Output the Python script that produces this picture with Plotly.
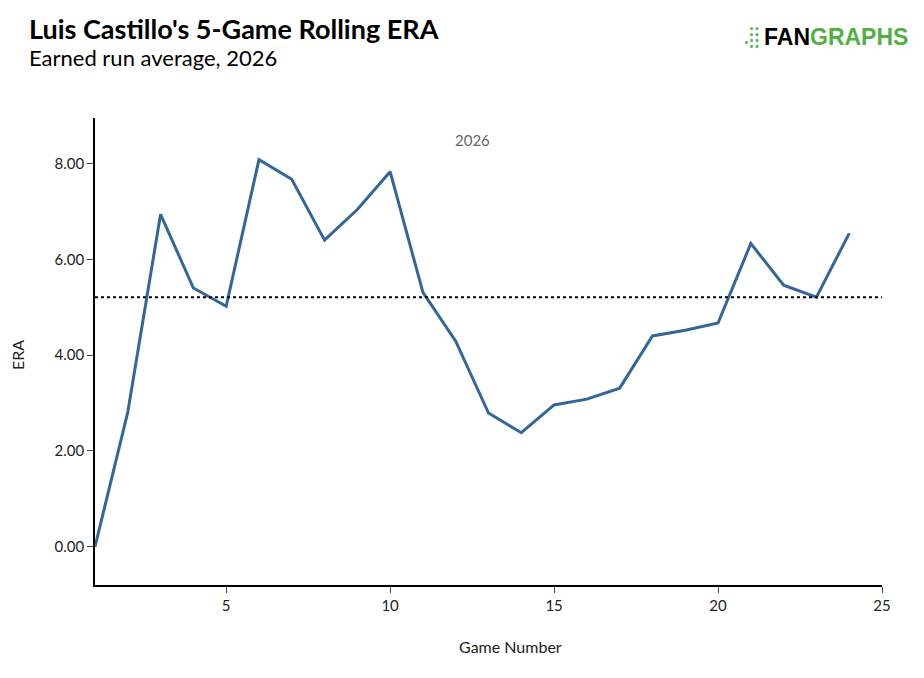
import plotly.graph_objects as go

games = list(range(1, 25))
era = [0.00, 2.81, 6.94, 5.40, 5.02, 8.08, 7.67, 6.40, 7.04, 7.83, 5.31, 4.29,
       2.79, 2.38, 2.96, 3.08, 3.31, 4.40, 4.52, 4.67, 6.33, 5.46, 5.21, 6.54]
avg_era = 5.21

H, W = 678, 924
L, R, T, B = 87, 50, 110, 101
fig = go.Figure()
fig.add_trace(go.Scatter(x=games, y=era, mode="lines",
                         line=dict(color="#336699", width=3), hoverinfo="x+y"))
fig.add_hline(y=avg_era, line=dict(color="black", width=2, dash="dot"))

fig.update_layout(
    width=W, height=H, showlegend=False,
    paper_bgcolor="white", plot_bgcolor="white",
    margin=dict(l=L, r=R, t=T, b=B, autoexpand=False),
    font=dict(family="Lato, sans-serif", size=15, color="#222"),
    xaxis=dict(range=[1, 25], tickvals=[5, 10, 15, 20, 25], showgrid=False, zeroline=False,
               showline=True, linecolor="black", linewidth=1.5, ticks="outside", ticklen=6,
               automargin=False),
    yaxis=dict(range=[-0.8, 8.95], tickvals=[0, 2, 4, 6, 8], tickformat=".2f",
               showgrid=False, zeroline=False, showline=True, linecolor="black", linewidth=1.5,
               ticks="outside", ticklen=6, automargin=False),
)
pw, ph = W - L - R, H - T - B
def px(x): return (x - 8 - L) / pw
def py(y): return (H - B - (y - 8)) / ph
fig.add_annotation(text="ERA", x=px(17), y=py(355), xref="paper", yref="paper", textangle=-90,
                   xanchor="center", yanchor="middle", showarrow=False, font=dict(size=16, color="#222"))
fig.add_annotation(text="Game Number", x=px(510), y=py(646), xref="paper", yref="paper",
                   xanchor="center", yanchor="middle", showarrow=False, font=dict(size=16, color="#222"))
fig.add_annotation(text="<b>Luis Castillo's 5-Game Rolling ERA</b>", x=px(27), y=py(28), xref="paper", yref="paper",
                   xanchor="left", yanchor="middle", showarrow=False, font=dict(size=27, color="black"))
fig.add_annotation(text="Earned run average, 2026", x=px(27), y=py(58), xref="paper", yref="paper",
                   xanchor="left", yanchor="middle", showarrow=False, font=dict(size=22, color="black"))
fig.add_annotation(text="2026", x=px(472), y=py(140), xref="paper", yref="paper",
                   xanchor="center", yanchor="middle",
                   showarrow=False, font=dict(size=15, color="#666"))
fig.add_annotation(text="<b>.⁞⁞</b>", x=px(762), y=py(36), xref="paper", yref="paper",
                   xanchor="right", yanchor="middle", showarrow=False,
                   font=dict(size=20, color="#5cb85c"))
fig.add_annotation(text="<b><span style='color:black'>FAN</span><span style='color:#52b043'>GRAPHS</span></b>",
                   x=px(910), y=py(37), xref="paper", yref="paper",
                   xanchor="right", yanchor="middle", showarrow=False,
                   font=dict(size=23, family="Liberation Sans, Arial"))
fig.write_html("out.html")
